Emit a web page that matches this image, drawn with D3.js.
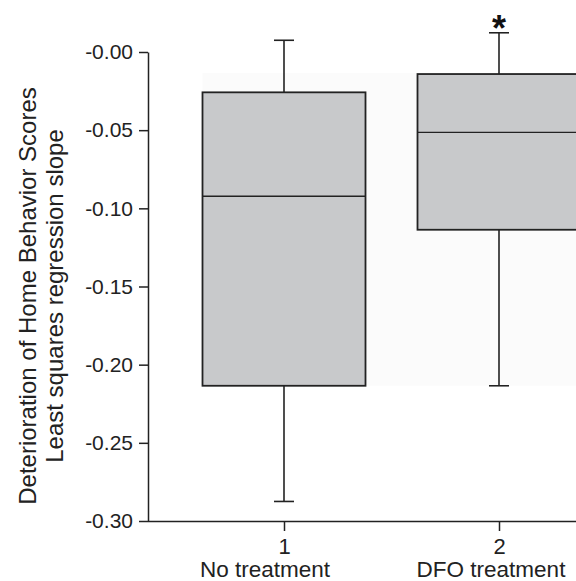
<!DOCTYPE html>
<html><head><meta charset="utf-8">
<script src="https://cdn.jsdelivr.net/npm/d3@7"></script>
<style>body{margin:0;background:#fff}svg{display:block}</style>
</head><body>
<svg id="c" width="576" height="581"></svg>
<script>
const groups = [1, 2];
const groupLabels = ["No treatment", "DFO treatment"];
const whiskerHigh = [0.0075, 0.0123];
const q3 = [-0.0258, -0.0141];
const median = [-0.0923, -0.0514];
const q1 = [-0.2135, -0.1137];
const whiskerLow = [-0.2875, -0.2135];
const markers = ["", "*"];
const yTicks = [0, -0.05, -0.10, -0.15, -0.20, -0.25, -0.30];
const yTickLabels = ["-0.00", "-0.05", "-0.10", "-0.15", "-0.20", "-0.25", "-0.30"];

const svg = d3.select("#c");
const font = "'Liberation Sans', Arial, Helvetica, sans-serif";
const y = d3.scaleLinear().domain([-0.30, 0]).range([521, 52]);
const x = d3.scaleLinear().domain([1, 2]).range([284, 499]);
const boxW = 163;

// faint background panel
svg.append("rect").attr("x", x(1) - boxW/2).attr("y", y(q3[1]) - 1)
  .attr("width", 576).attr("height", y(q1[0]) - y(q3[1]) + 1)
  .attr("fill", "#fbfbfb");

const g = svg.append("g");
groups.forEach((gv, i) => {
  const cx = x(gv);
  g.append("line").attr("x1", cx).attr("x2", cx).attr("y1", y(whiskerHigh[i])).attr("y2", y(q3[i]))
    .attr("stroke", "#222").attr("stroke-width", 1.6);
  g.append("line").attr("x1", cx).attr("x2", cx).attr("y1", y(q1[i])).attr("y2", y(whiskerLow[i]))
    .attr("stroke", "#222").attr("stroke-width", 1.6);
  [whiskerHigh[i], whiskerLow[i]].forEach(v => {
    g.append("line").attr("x1", cx - 10).attr("x2", cx + 10).attr("y1", y(v)).attr("y2", y(v))
      .attr("stroke", "#222").attr("stroke-width", 1.6);
  });
  g.append("rect").attr("x", cx - boxW/2).attr("y", y(q3[i]))
    .attr("width", boxW).attr("height", y(q1[i]) - y(q3[i]))
    .attr("fill", "#c8c9cb").attr("stroke", "#222").attr("stroke-width", 1.8);
  g.append("line").attr("x1", cx - boxW/2).attr("x2", cx + boxW/2).attr("y1", y(median[i])).attr("y2", y(median[i]))
    .attr("stroke", "#222").attr("stroke-width", 1.4);
  if (markers[i]) {
    g.append("text").attr("x", cx).attr("y", y(whiskerHigh[i]) + 8)
      .attr("text-anchor", "middle").attr("font-family", font).attr("font-weight", "bold")
      .attr("font-size", 36).attr("fill", "#111").text(markers[i]);
  }
});

// y axis
const yAxis = d3.axisLeft(y).tickValues(yTicks).tickSize(9).tickSizeOuter(0).tickPadding(6)
  .tickFormat((d, i) => yTickLabels[i]);
const ya = svg.append("g").attr("transform", "translate(148,0)").call(yAxis);
ya.selectAll("text").attr("font-family", font).attr("font-size", 21).attr("fill", "#222");
ya.selectAll("line, path").attr("stroke", "#222").attr("stroke-width", 1.5);

// x axis
const xAxis = d3.axisBottom(x).tickValues(groups).tickSize(10).tickSizeOuter(0).tickPadding(7)
  .tickFormat(d => d);
const xa = svg.append("g").attr("transform", "translate(0,521)").call(xAxis);
xa.select("path").attr("d", "M148,0.5H576");
xa.selectAll("text").attr("font-family", font).attr("font-size", 22).attr("fill", "#222");
xa.selectAll("line, path").attr("stroke", "#222").attr("stroke-width", 1.5);
const labelShift = [-19, -8];
groups.forEach((gv, i) => {
  svg.append("text").attr("x", x(gv) + labelShift[i]).attr("y", 577).attr("text-anchor", "middle")
    .attr("font-family", font).attr("font-size", 22.5).attr("fill", "#222").text(groupLabels[i]);
});

// y title
const yt = svg.append("text").attr("transform", "translate(0,296) rotate(-90)")
  .attr("text-anchor", "middle").attr("font-family", font).attr("font-size", 24).attr("fill", "#222");
yt.append("tspan").attr("x", 0).attr("y", 36).text("Deterioration of Home Behavior Scores");
yt.append("tspan").attr("x", 0).attr("y", 63).text("Least squares regression slope");
</script>
</body></html>
